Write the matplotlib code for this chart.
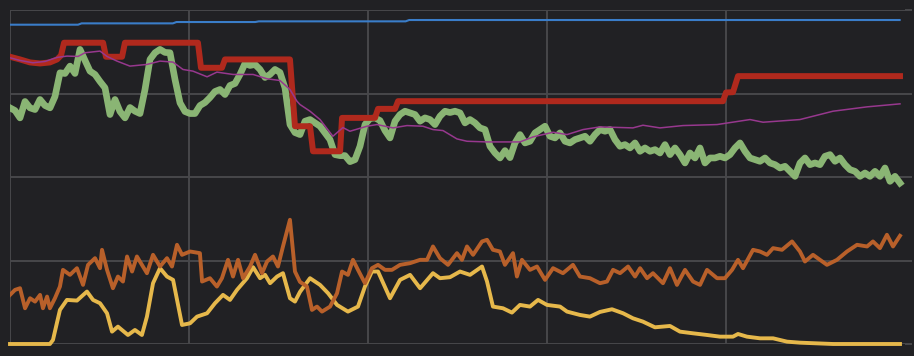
import matplotlib.pyplot as plt

# Series values (x in sample units 0..500, y in 0..100)
blue_x = [0, 38, 40, 91, 93, 137, 139, 221, 223, 497]
blue_y = [95.6, 95.6, 96.0, 96.0, 96.4, 96.4, 96.6, 96.6, 97.0, 97.0]

red_x = [0, 5.6, 11.2, 16.8, 22.3, 26.3, 28.5, 30.2, 52, 53.6, 62.6, 64.2, 105, 106.7,
         118.4, 120.1, 156.4, 159.2, 167.6, 169.3, 184.4, 185.5, 203.9, 205.6, 215.1,
         216.8, 398.3, 400, 403.9, 406.7, 497.2]
red_y = [86.0, 85.2, 84.3, 84.0, 84.3, 85.2, 86.4, 90.2, 90.2, 86.0, 86.0, 90.2, 90.2, 82.7,
         82.7, 85.2, 85.2, 65.2, 65.2, 57.7, 57.7, 67.7, 67.7, 70.4, 70.4,
         72.7, 72.7, 75.3, 75.4, 80.2, 80.2]

purple_x = [0, 5.6, 12.8, 19.6, 26.3, 31.8, 38, 41.9, 50.3, 54.2, 59.8, 67, 76.5, 83.8, 91.1,
            96.6, 102.2, 110.1, 115.6, 124.6, 135.8, 143.6, 150.8, 156.4, 160.3, 162, 167.6,
            173.2, 178.8, 180.4, 186, 189.9, 199.4, 205, 214, 221.8, 230.7, 236.3, 241.9,
            249.7, 255.3, 266.5, 284.9, 292.2, 303.4, 311.2, 320.1, 329.6, 348, 353.6, 363.1,
            376, 395, 413.4, 420.7, 441.3, 459.8, 478.8, 497.2]
purple_y = [85.7, 84.9, 84.2, 84.6, 85.8, 86.2, 86.1, 87.2, 87.7, 86.1, 84.7, 83.2, 83.7, 84.7,
            84.4, 82.2, 81.7, 80.0, 81.4, 80.7, 80.7, 79.4, 78.9, 76.2, 72.7, 71.7, 69.7,
            67.2, 63.3, 62.2, 64.8, 63.7, 65.2, 65.7, 64.7, 65.4, 65.2, 64.2, 63.9,
            61.4, 60.7, 60.5, 60.5, 62.0, 63.4, 62.7, 64.2, 65.0, 64.7, 65.5, 64.7,
            65.4, 65.7, 67.2, 66.4, 67.2, 69.7, 71.0, 71.9]

# green is sampled at a regular step
green_step = 2.7933
green_y = [70.7, 69.9, 67.7, 72.6, 70.7, 70.2, 73.2, 71.4, 70.7, 74.1,
           81.2, 81.0, 83.2, 81.0, 88.2, 84.9, 81.7, 80.7, 78.6, 76.7,
           68.7, 73.2, 69.6, 67.7, 70.8, 69.7, 69.0, 76.2, 85.2, 87.2,
           88.2, 87.3, 87.2, 79.2, 72.2, 69.6, 69.0, 69.0, 71.4, 72.3,
           73.8, 75.6, 76.2, 74.7, 77.4, 78.0, 80.7, 84.0, 83.4, 83.7,
           82.2, 79.8, 80.7, 82.2, 81.3, 76.7, 65.7, 63.3, 62.7,
           66.7, 67.2, 66.2, 65.2, 63.2, 61.2, 56.7, 56.4, 56.4, 54.6,
           55.2, 59.2, 65.7, 67.5, 67.7, 66.9, 63.9, 61.7, 66.7, 68.7,
           69.7, 69.2, 68.7, 66.7, 67.7, 67.2, 65.7, 68.2, 69.7,
           69.3, 69.7, 69.2, 66.2, 67.2, 66.2, 64.7, 64.2, 59.2, 57.2,
           55.7, 57.9, 55.8, 60.2, 62.7, 60.2, 60.7, 63.2, 64.2, 65.2,
           62.2, 61.7, 63.2, 60.7, 60.2, 61.2, 61.7, 62.2, 60.7, 62.7,
           64.2, 63.7, 64.2, 61.2, 59.2, 59.7, 58.7, 60.2, 57.7, 58.7,
           57.7, 58.2, 57.2, 59.7, 56.7, 58.7, 56.7, 54.2, 57.2, 55.7,
           58.7, 54.2, 55.7, 55.7, 56.2, 55.7, 56.7, 58.7, 60.2, 57.7,
           55.7, 55.2, 54.7, 55.7, 54.2, 53.7, 52.7, 53.2, 51.7, 50.2,
           54.2, 55.7, 53.7, 54.2, 53.7, 56.2, 56.7, 54.7, 55.7, 53.7,
           52.2, 51.7, 50.2, 51.2, 50.2, 51.7, 50.2, 52.7, 48.7, 50.2,
           48.2]
green_x = [i * green_step for i in range(len(green_y))]

orange_x = [0, 2.8, 5.6, 8.4, 11.2, 14, 16.8, 18.4, 20.7, 22.3, 25.1, 27.9, 29.6, 33.5, 37.4,
            40.8, 43.6, 47.5, 50.3, 51.4, 54.2, 57.5, 60.3, 63.1, 65.4, 68.2, 70.9, 76.5, 79.9,
            83.8, 87.7, 90.5, 93.3, 96.1, 100.6, 106.1, 107.3, 111.7, 115.6, 118.4, 121.8,
            124.6, 127.4, 130.2, 134.1, 136.9, 140.8, 143.6, 146.9, 149.7, 152.5, 156.4, 159.2,
            162, 165.9, 168.7, 171.5, 174.3, 178.8, 182.7, 185.5, 188.8, 191.6, 194.4, 198.3,
            202.2, 205.6, 209.5, 213.4, 217.9, 223.5, 229.1, 233, 236.3, 240.2, 244.7, 249.7,
            252.5, 255.3, 258.7, 263.7, 266.5, 269.8, 273.7, 276.5, 281, 283.2, 286, 290.5,
            294.4, 298.9, 303.4, 308.9, 314.5, 318.4, 324, 329.6, 333.5, 336.9, 340.8, 345.3,
            349.2, 352, 355.9, 359.2, 364.8, 368.7, 372.6, 377.1, 381.6, 385.5, 389.4, 395,
            399.4, 403.4, 406.7, 409.5, 415.1, 419, 422.9, 426.3, 431.3, 436.9, 441.3, 444.1,
            448.6, 456.4, 462, 467.6, 473.2, 478.8, 482.1, 486, 489.9, 493.3, 497.2]
orange_y = [14.7, 16.2, 16.7, 10.7, 13.7, 12.7, 14.7, 10.7, 14.2, 10.7, 13.7, 17.2, 22.2, 20.7,
            22.7, 17.7, 23.7, 25.7, 22.7, 28.2, 22.2, 16.7, 20.2, 18.7, 26.2, 21.7, 26.2, 21.2,
            26.7, 23.2, 25.7, 23.2, 29.7, 26.7, 27.7, 27.2, 18.7, 19.7, 17.2, 19.7, 25.2,
            20.2, 25.2, 19.7, 23.2, 26.7, 21.2, 24.7, 26.2, 23.2, 29.2, 37.2, 21.7,
            18.6, 17.2, 10.2, 11.2, 9.7, 11.2, 15.2, 21.7, 20.7, 25.2, 22.2, 18.2,
            22.7, 23.7, 22.2, 22.2, 23.7, 24.2, 25.2, 25.2, 29.2, 25.7, 23.7, 27.2,
            25.2, 29.2, 26.7, 30.7, 31.2, 28.2, 27.7, 23.7, 27.2, 20.2, 25.2, 22.2,
            23.2, 19.2, 22.7, 21.2, 23.7, 20.2, 19.7, 18.2, 18.7, 22.2, 21.2, 23.2,
            20.2, 22.7, 19.7, 21.2, 18.2, 22.7, 17.7, 22.2, 18.7, 17.7, 22.2, 19.7,
            19.7, 22.2, 25.2, 22.7, 28.2, 27.7, 26.7, 28.7, 28.2, 30.7, 27.7, 24.7,
            26.7, 23.7, 25.2, 27.7, 29.7, 29.2, 30.7, 28.7, 32.7, 29.2, 32.4]

yellow_x = [0, 22.3, 24, 27.9, 31.8, 37.4, 43, 46.4, 50.3, 54.2, 57, 60.3, 65.9, 69.8, 73.7,
            76.5, 79.9, 83.8, 87.7, 91.1, 96.1, 100.6, 104.5, 110.1, 114.5, 119, 122.9, 126.8,
            132.4, 135.8, 139.7, 142.5, 145.3, 149.2, 152.5, 156.4, 159.2, 162, 167.6, 173.2,
            177.7, 182.7, 188.8, 194.4, 198.3, 202.2, 205.6, 212.3, 217.9, 223.5, 229.1, 236.3,
            240.2, 245.8, 251.4, 257, 263.7, 266.5, 269.8, 275.4, 280.4, 284.9, 290.5, 295,
            300, 307.3, 311.2, 318.4, 324, 329.6, 336.3, 342.5, 348, 353.6, 360.3, 368.7,
            374.3, 381.6, 389.4, 396.6, 403.9, 406.7, 411.7, 419, 426.3, 434.1, 441.3, 459.8,
            497.2]
yellow_y = [0.0, 0.0, 1.2, 10.2, 13.2, 13.0, 15.7, 13.2, 12.2, 9.2, 3.7, 5.2, 2.7, 4.2, 2.7,
            8.2, 18.2, 22.7, 20.2, 19.2, 5.7, 6.2, 8.2, 9.2, 12.2, 14.7, 13.2, 16.2,
            19.7, 23.0, 19.7, 20.7, 18.2, 20.2, 21.2, 13.7, 12.7, 15.6, 19.7, 17.7,
            15.2, 11.7, 9.7, 11.2, 17.2, 21.7, 21.7, 13.7, 19.2, 20.7, 16.7, 21.2,
            19.7, 20.0, 21.7, 20.7, 23.2, 18.7, 11.2, 10.7, 9.4, 11.7, 11.2, 13.2,
            11.7, 11.2, 9.7, 8.7, 8.2, 9.6, 10.4, 9.2, 7.7, 6.7, 5.0, 5.4,
            3.7, 3.2, 2.7, 2.2, 2.2, 3.0, 2.2, 1.7, 1.7, 0.7, 0.4, 0.0,
            0.0]

bg = '#212124'
grid_color = '#48484b'

fig = plt.figure(figsize=(9.14, 3.56), dpi=100)
fig.patch.set_facecolor(bg)
ax = fig.add_axes([10 / 914, 12 / 356, 895 / 914, 334 / 356])
ax.set_facecolor(bg)

ax.plot(yellow_x, yellow_y, color='#e6b84b', linewidth=2.8, zorder=3, clip_on=False)
ax.plot(orange_x, orange_y, color='#b8602a', linewidth=2.8, zorder=4)
ax.plot(green_x, green_y, color='#8ab574', linewidth=4.8, zorder=5)
ax.plot(red_x, red_y, color='#b0291d', linewidth=4.3, zorder=6)
ax.plot(purple_x, purple_y, color='#97388e', linewidth=1.1, zorder=7)
ax.plot(blue_x, blue_y, color='#3a7dc9', linewidth=1.5, zorder=8)

ax.set_xlim(0, 500)
ax.set_ylim(0, 100)
ax.set_xticks([0, 100, 200, 300, 400])
ax.set_yticks([0, 25, 50, 75, 100])
ax.grid(True, color=grid_color, linewidth=1.4)
ax.set_axisbelow(True)

for s in ax.spines.values():
    s.set_visible(False)

ax.tick_params(axis='x', bottom=False, labelbottom=False)
ax.tick_params(axis='y', left=False, labelleft=False, right=True, labelright=False,
               length=5, width=1.4, color=grid_color, pad=2)

fig.savefig('out.png', dpi=100, facecolor=bg)
